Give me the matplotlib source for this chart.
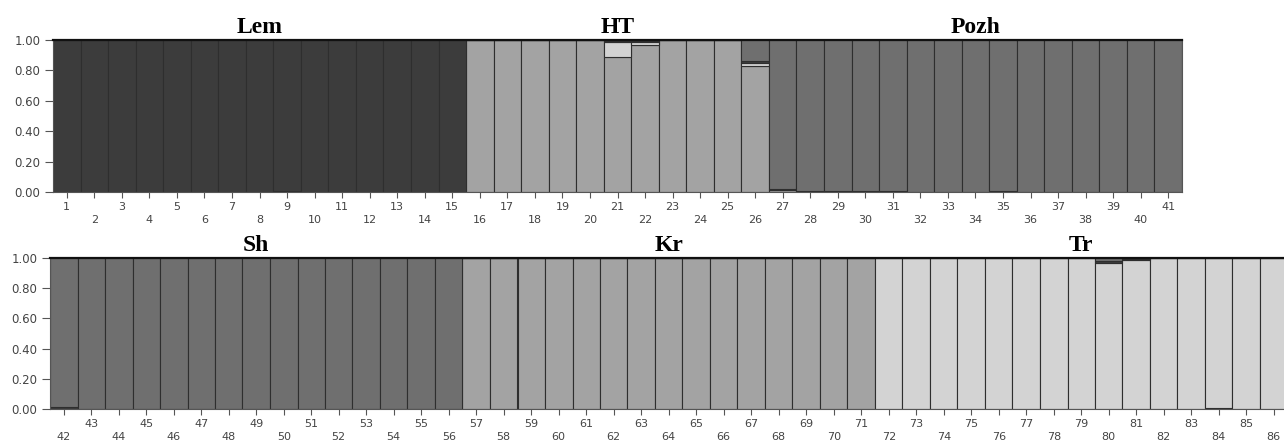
import numpy as np
import matplotlib.pyplot as plt

# populations (top row / bottom row) and their sizes
pops_top = ['Lem', 'HT', 'Pozh']
sizes_top = [15, 11, 15]
pops_bot = ['Sh', 'Kr', 'Tr']
sizes_bot = [15, 15, 15]

# membership coefficients, individuals 1..86, stacking order bottom -> top
# cluster B (HT / Kr)
q_b = [0, 0, 0, 0, 0, 0, 0, 0, 0.006, 0, 0, 0, 0, 0, 0,
       1, 1, 1, 1, 1, 0.89, 0.97, 1, 1, 1, 0.83,
       0.01, 0.004, 0.004, 0.004, 0.005, 0, 0, 0, 0.005, 0, 0, 0, 0, 0, 0,
       0, 0, 0, 0, 0, 0, 0, 0, 0, 0, 0, 0, 0, 0, 0,
       1, 1, 1, 1, 1, 1, 1, 1, 1, 1, 1, 1, 1, 1, 1,
       0, 0, 0, 0, 0, 0, 0, 0, 0, 0, 0, 0, 0.008, 0, 0]
# cluster D (Tr)
q_d = [0, 0, 0, 0, 0, 0, 0, 0, 0, 0, 0, 0, 0, 0, 0,
       0, 0, 0, 0, 0, 0.095, 0.018, 0, 0, 0, 0.018,
       0, 0, 0, 0, 0, 0, 0, 0, 0, 0, 0, 0, 0, 0, 0,
       0, 0, 0, 0, 0, 0, 0, 0, 0, 0, 0, 0, 0, 0, 0,
       0, 0, 0, 0, 0, 0, 0, 0, 0, 0, 0, 0, 0, 0, 0,
       1, 1, 1, 1, 1, 1, 1, 1, 0.97, 0.985, 1, 1, 0.992, 1, 1]
# cluster A (Lem)
q_a = [1, 1, 1, 1, 1, 1, 1, 1, 0.994, 1, 1, 1, 1, 1, 1,
       0, 0, 0, 0, 0, 0.008, 0.007, 0, 0, 0, 0.012,
       0.01, 0, 0, 0, 0, 0, 0, 0, 0, 0, 0, 0, 0, 0, 0,
       0.015, 0, 0, 0, 0, 0, 0, 0, 0, 0, 0, 0, 0, 0, 0,
       0, 0, 0, 0, 0, 0, 0, 0, 0, 0, 0, 0, 0, 0, 0,
       0, 0, 0, 0, 0, 0, 0, 0, 0.01, 0.01, 0, 0, 0, 0, 0]
# cluster C (Pozh / Sh)
q_c = [0, 0, 0, 0, 0, 0, 0, 0, 0, 0, 0, 0, 0, 0, 0,
       0, 0, 0, 0, 0, 0.007, 0.005, 0, 0, 0, 0.14,
       0.98, 0.996, 0.996, 0.996, 0.995, 1, 1, 1, 0.995, 1, 1, 1, 1, 1, 1,
       0.985, 1, 1, 1, 1, 1, 1, 1, 1, 1, 1, 1, 1, 1, 1,
       0, 0, 0, 0, 0, 0, 0, 0, 0, 0, 0, 0, 0, 0, 0,
       0, 0, 0, 0, 0, 0, 0, 0, 0.02, 0.005, 0, 0, 0, 0, 0]

yticks = [0.0, 0.2, 0.4, 0.6, 0.8, 1.0]

clusters = [q_b, q_d, q_a, q_c]
colors = ['#a3a3a3', '#d3d3d3', '#3c3c3c', '#6f6f6f']

Q = np.array(clusters)
n_top = sum(sizes_top)

fig = plt.figure(figsize=(12.84, 4.41), dpi=100)
W, H = 1284, 441
ax_top = fig.add_axes([53 / W, 1 - 192 / H, 1129 / W, 152 / H])
ax_bot = fig.add_axes([50 / W, 1 - 409 / H, 1237.5 / W, 151 / H])


def draw(ax, q, first_id, pops, sizes):
    n = q.shape[1]
    x = np.arange(n)
    bottom = np.zeros(n)
    for k in range(q.shape[0]):
        ax.bar(x, q[k], width=1.0, bottom=bottom, color=colors[k],
               edgecolor='#2e2e2e', linewidth=0.8)
        bottom += q[k]
    ax.set_xlim(-0.5, n - 0.5)
    ax.set_ylim(0, 1)

    ids = np.arange(first_id, first_id + n)
    odd = x[ids % 2 == 1]
    even = x[ids % 2 == 0]
    ax.set_xticks(odd)
    ax.set_xticklabels([str(i) for i in ids[ids % 2 == 1]])
    ax.set_xticks(even, minor=True)
    ax.set_xticklabels([str(i) for i in ids[ids % 2 == 0]], minor=True)
    ax.tick_params(axis='x', which='both', length=4.3, width=0.8,
                   color='#555555', labelsize=8, labelcolor='#444444')
    ax.tick_params(axis='x', which='major', pad=3.2)
    ax.tick_params(axis='x', which='minor', pad=12.5)

    ax.set_yticks(yticks)
    ax.set_yticklabels(['%.2f' % v for v in yticks])
    ax.tick_params(axis='y', length=6, width=0.8, color='#555555',
                   labelsize=8.5, labelcolor='#444444', pad=3)

    for s in ['left', 'bottom', 'right']:
        ax.spines[s].set_color('#555555')
        ax.spines[s].set_linewidth(0.8)
    ax.spines['top'].set_color('#111111')
    ax.spines['top'].set_linewidth(1.6)

    start = 0
    for name, size in zip(pops, sizes):
        cx = start + (size - 1) / 2
        ax.text(cx, 1.045, name, transform=ax.get_xaxis_transform(),
                ha='center', va='baseline', fontsize=17, fontweight='bold',
                family='Liberation Serif')
        start += size


draw(ax_top, Q[:, :n_top], 1, pops_top, sizes_top)
draw(ax_bot, Q[:, n_top:], n_top + 1, pops_bot, sizes_bot)

fig.savefig('out.png', dpi=100)
